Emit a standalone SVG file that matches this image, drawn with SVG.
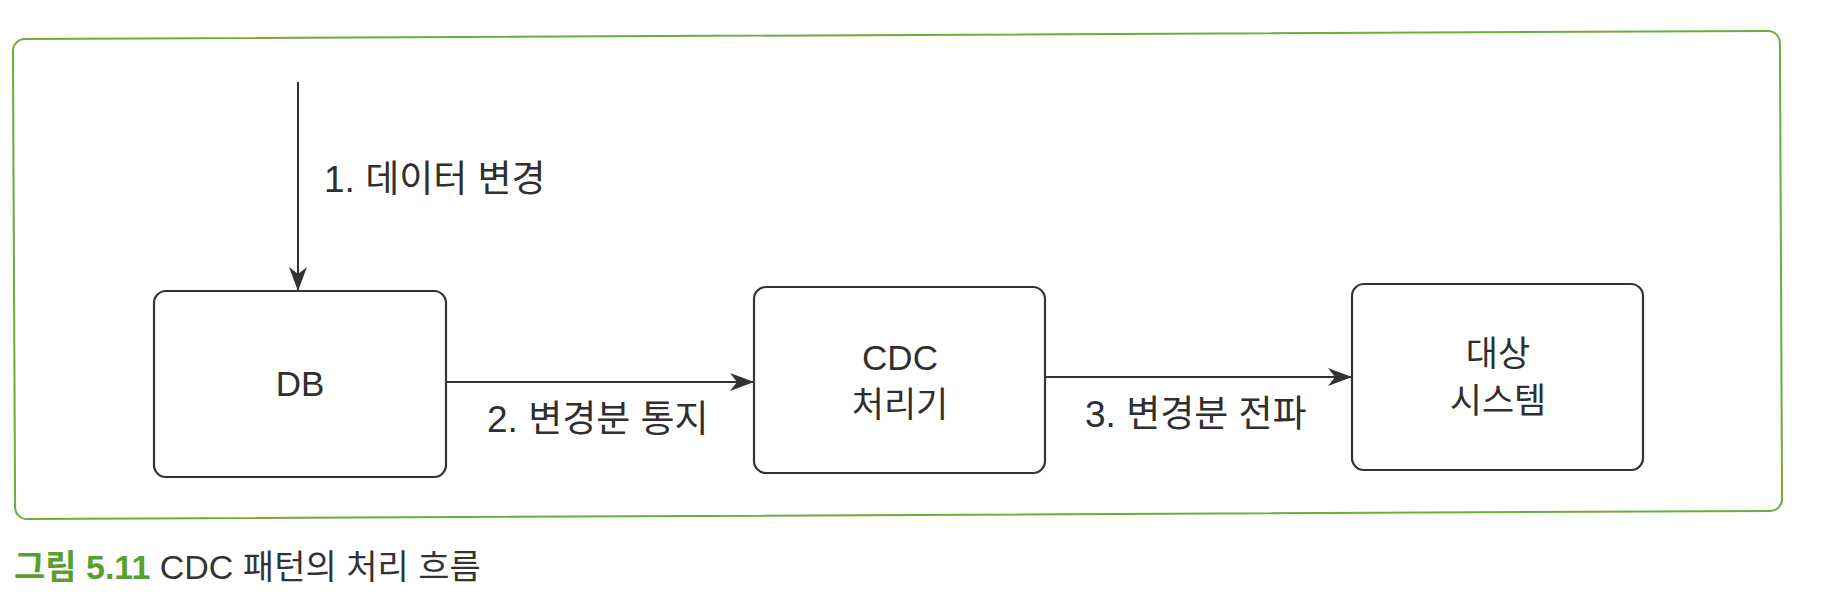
<svg xmlns="http://www.w3.org/2000/svg" width="1828" height="606" viewBox="0 0 1828 606">
  <style>
    .frame { fill: none; stroke: #6cad3c; stroke-width: 2; }
    .box { fill: #ffffff; stroke: #333333; stroke-width: 2.2; }
    .edge { fill: none; stroke: #333333; stroke-width: 2; }
    .t { font-family: "Liberation Sans", "Noto Sans CJK KR", sans-serif; fill: #2f2f2f; font-size: 35px; }
    .el { font-size: 37px; }
    .mid { text-anchor: middle; }
    .cap { font-family: "Liberation Sans", "Noto Sans CJK KR", sans-serif; font-size: 34px; fill: #333333; }
    .capg { fill: #5a9e2c; font-weight: bold; }
  </style>
  <defs>
    <marker id="arr" viewBox="0 0 24 20" refX="23" refY="10" markerWidth="24" markerHeight="20" markerUnits="userSpaceOnUse" orient="auto">
      <path d="M0,1 L24,10 L0,19 L7,10 Z" fill="#333333"/>
    </marker>
  </defs>
  <rect width="1828" height="606" fill="#ffffff"/>
  <rect class="frame" x="14" y="35" width="1767" height="480" rx="12" transform="rotate(-0.27 897 275)"/>

  <g id="connectors">
    <line class="edge" x1="298" y1="82" x2="298" y2="290" marker-end="url(#arr)"/>
    <line class="edge" x1="446" y1="382" x2="753" y2="382" marker-end="url(#arr)"/>
    <line class="edge" x1="1045" y1="377" x2="1351" y2="377" marker-end="url(#arr)"/>
    <text class="t el" x="324" y="192">1. 데이터 변경</text>
    <text class="t el" x="487" y="432">2. 변경분 통지</text>
    <text class="t el" x="1085" y="427">3. 변경분 전파</text>
  </g>

  <g id="db">
    <rect class="box" x="154" y="291" width="292" height="186" rx="12"/>
    <text class="t mid" x="300" y="396">DB</text>
  </g>

  <g id="cdc">
    <rect class="box" x="754" y="287" width="291" height="186" rx="12"/>
    <text class="t mid" x="900" y="370">CDC</text>
    <text class="t mid" x="900" y="417">처리기</text>
  </g>

  <g id="target">
    <rect class="box" x="1352" y="284" width="291" height="186" rx="12"/>
    <text class="t mid" x="1498" y="366">대상</text>
    <text class="t mid" x="1498" y="413">시스템</text>
  </g>

  <text class="cap" x="14" y="579"><tspan class="capg">그림 5.11</tspan> CDC 패턴의 처리 흐름</text>
</svg>
